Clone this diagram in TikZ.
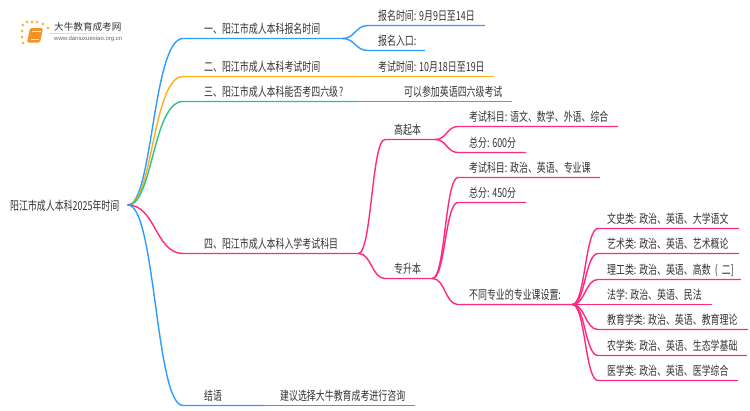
\documentclass[tikz,border=0pt]{standalone}
\usepackage{fontspec}
\setmainfont[FakeStretch=0.72]{Noto Sans CJK SC}
\newfontfamily\urlfont{Liberation Sans}
\newfontfamily\logofont{Noto Sans CJK SC}
\usetikzlibrary{calc}
\definecolor{cblue}{HTML}{2E9BFF}
\definecolor{corange}{HTML}{FFAE1A}
\definecolor{cgreen}{HTML}{2FC27E}
\definecolor{cpink}{HTML}{FF2A7F}
\definecolor{ctext}{HTML}{333333}
\definecolor{cdot}{HTML}{F9B94A}
\definecolor{cbook}{HTML}{F2932A}
\newcommand{\cl}{:\kern2.8pt}
\tikzset{
  item/.style={anchor=south west,inner sep=0pt,text height=10pt,text depth=4.5pt,
    font=\fontsize{12.4pt}{13pt}\selectfont,text=ctext,align=left},
  conn/.style={line width=1.4pt,line cap=round,line join=round},
}
% \curv{colour}{from}{to}{gap}{bend}
\newcommand{\curv}[5]{\draw[conn,#1] let \p1=(#2),\p2=($(#3.south west)-(#4,0)$) in
  (\p1) .. controls ({\x1+#5*(\x2-\x1)},\y1) and ({\x1+#5*(\x2-\x1)},\y2) .. (\p2)
  -- (#3.south west) -- (#3.south east);}
\newcommand{\strt}[3]{\draw[conn,#1] (#2.south east) -- (#3.south west) -- (#3.south east);}
\begin{document}
\begin{tikzpicture}[x=1pt,y=-1pt]
\useasboundingbox (0,0) rectangle (750,410);
\fill[white] (0,0) rectangle (750,410);
% logo
\foreach \a/\b in {23/25,27/22,32/22,37/22,43/24,48/28,22/31,22/37,23/43}
  \fill[cdot] (\a,\b) circle (1.7);
\fill[cbook,rounded corners=1.5pt] (30,28) -- (43,28) -- (40,42.5) -- (27,42.5) -- cycle;
\draw[white!80!cbook,line width=.6pt] (32,31) -- (41,31) (30.5,39.5) -- (39,39.5);
\shade[left color=black!18,right color=white] (50,33) rectangle (133,33.7);
\node[inner sep=0pt,anchor=west,font=\logofont\fontsize{9.6pt}{10pt}\selectfont,text=ctext] (logo) at (54,27) {大牛教育成考网};
\node[inner sep=0pt,anchor=west,font=\urlfont\fontsize{6pt}{7pt}\selectfont,text=black!60] (url) at (54,39) {www.daniuxuexiao.org.cn};
% root
\coordinate (rt) at (128,205);
\node[inner sep=0pt,anchor=west,font=\fontsize{12.4pt}{13pt}\selectfont,text=ctext] (root) at (10,206) {阳江市成人本科2025年时间};
% level 1
\node[item,text width=138pt] (a1) at (204,38.5) {一、阳江市成人本科报名时间};
\node[item,text width=154pt] (a2) at (204,76.5) {二、阳江市成人本科考试时间};
\node[item,text width=154pt] (a3) at (204,101.5) {三、阳江市成人本科能否考四六级\kern1pt?};
\node[item,text width=154pt] (a5) at (204,253.5) {四、阳江市成人本科入学考试科目};
\node[item,text width=60pt] (a6) at (204,405.5) {结语};
% level 2
\node[item,text width=106pt] (b1) at (378,25.5) {报名时间\cl 9月9日至14日};
\node[item,text width=46pt] (b2) at (378,50.5) {报名入口:};
\node[item,text width=115pt] (b3) at (378,76.5) {考试时间\cl 10月18日至19日};
\node[item,text width=107pt] (b4) at (404,101.5) {可以参加英语四六级考试};
\node[item,text width=134pt] (b6) at (280,405.5) {建议选择大牛教育成考进行咨询};
\node[item,text width=41pt] (g) at (394,139.5) {高起本};
\node[item,text width=38pt] (z) at (394,278.5) {专升本};
% level 3
\node[item,text width=148pt] (g1) at (469,126.5) {考试科目\cl 语文、数学、外语、综合};
\node[item,text width=56pt] (g2) at (469,152.5) {总分\cl 600分};
\node[item,text width=130pt] (z1) at (469,177.5) {考试科目\cl 政治、英语、专业课};
\node[item,text width=56pt] (z2) at (469,202.5) {总分\cl 450分};
\node[item,text width=103pt] (z3) at (469,304.5) {不同专业的专业课设置:};
% level 4
\node[item,text width=131pt] (k1) at (607,228.5) {文史类\cl 政治、英语、大学语文};
\node[item,text width=131pt] (k2) at (607,253.5) {艺术类\cl 政治、英语、艺术概论};
\node[item,text width=133pt] (k3) at (607,279.5) {理工类\cl 政治、英语、高数 ( 二]};
\node[item,text width=104pt] (k4) at (607,304.5) {法学\cl 政治、英语、民法};
\node[item,text width=140pt] (k5) at (607,329.5) {教育学类\cl 政治、英语、教育理论};
\node[item,text width=139pt] (k6) at (607,355.5) {农学类\cl 政治、英语、生态学基础};
\node[item,text width=130pt] (k7) at (607,380.5) {医学类\cl 政治、英语、医学综合};
% connectors
\curv{cblue}{rt}{a1}{21pt}{.45}
\curv{corange}{rt}{a2}{21pt}{.45}
\curv{cgreen}{rt}{a3}{21pt}{.45}
\curv{cpink}{rt}{a5}{21pt}{.5}
\curv{cblue}{rt}{a6}{21pt}{.5}
\curv{cblue}{a1.south east}{b1}{10pt}{.5}
\curv{cblue}{a1.south east}{b2}{10pt}{.5}
\strt{corange}{a2}{b3}
\strt{cgreen}{a3}{b4}
\strt{cblue}{a6}{b6}
\curv{cpink}{a5.south east}{g}{9pt}{.5}
\curv{cpink}{a5.south east}{z}{9pt}{.5}
\curv{cpink}{g.south east}{g1}{11pt}{.5}
\curv{cpink}{g.south east}{g2}{11pt}{.5}
\curv{cpink}{z.south east}{z1}{11pt}{.5}
\curv{cpink}{z.south east}{z2}{11pt}{.5}
\curv{cpink}{z.south east}{z3}{11pt}{.5}
\foreach \k in {k1,k2,k3,k4,k5,k6,k7}{\curv{cpink}{z3.south east}{\k}{9pt}{.5}}
\end{tikzpicture}
\end{document}
